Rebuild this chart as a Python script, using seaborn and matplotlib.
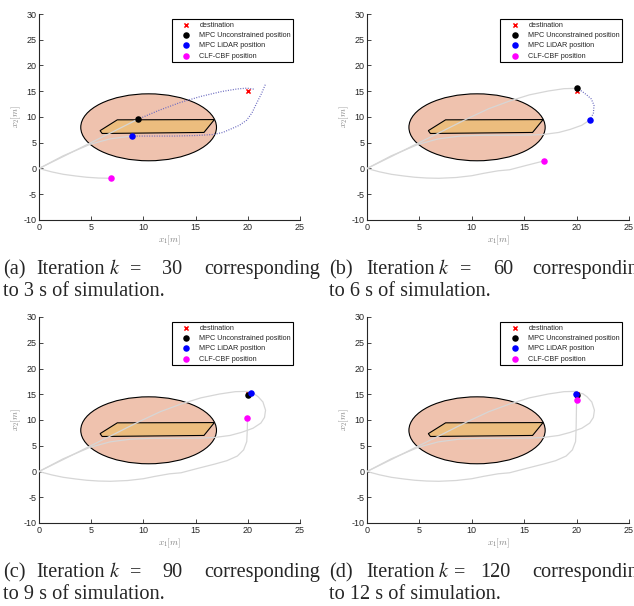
import numpy as np
import matplotlib
matplotlib.use("Agg")
import matplotlib.pyplot as plt
import seaborn as sns
from matplotlib.patches import Ellipse, Polygon

# ---- data ----
DEST = (20.0, 15.0)
OBST_CENTER = (10.5, 8.0)
OBST_RADIUS = 6.5
BUILD_X = [5.85, 7.5, 16.8, 15.8, 6.05]
BUILD_Y = [7.35, 9.45, 9.5, 7.0, 6.8]

# executed trajectories (gray)
UNC_X = [0, 2.4, 4.8, 7.2, 9.45, 11.6, 13.6, 15.5, 17.3, 18.8, 20.07, 20.05]
UNC_Y = [0, 2.4, 4.85, 7.25, 9.55, 11.6, 13.1, 14.3, 15.05, 15.5, 15.57, 14.9]

LID_X = [0, 2.3, 4.9, 6.8, 8.88, 11.0, 13.5, 15.5, 16.8, 18.3, 19.4, 20.5, 21.25,
         21.6, 21.7, 21.45, 21.0, 20.6, 20.3, 19.95]
LID_Y = [0, 2.45, 4.7, 5.75, 6.3, 6.45, 6.45, 6.5, 6.6, 7.0, 7.6, 8.4, 9.4,
         10.5, 11.9, 13.5, 14.5, 15.1, 15.2, 15.0]

CBF_X = [0, 1.2, 2.33, 3.5, 4.57, 5.7, 6.85, 8.5, 10.0, 11.1, 12.5, 13.6, 15.2,
         16.85, 18.0, 19.0, 19.6, 19.9, 19.95, 19.97, 20.0]
CBF_Y = [0, -0.65, -1.13, -1.45, -1.7, -1.85, -1.9, -1.75, -1.4, -0.95, -0.45,
         -0.25, 0.6, 1.45, 2.1, 3.0, 4.2, 5.8, 8.0, 10.3, 13.9]

# predicted trajectories (dotted)
UNC_PRED_A_X = [9.45, 11.5, 13.5, 15.5, 17.5, 19.0, 19.9, 20.6]
UNC_PRED_A_Y = [9.55, 11.3, 12.8, 14.0, 14.95, 15.45, 15.6, 15.4]
LID_PRED_A_X = [8.88, 11.0, 13.0, 15.0, 16.7, 17.6, 18.3, 19.2, 19.9, 20.4, 20.85, 21.3, 21.7]
LID_PRED_A_Y = [6.3, 6.3, 6.3, 6.4, 6.6, 7.0, 7.6, 8.4, 9.4, 10.8, 12.7, 14.5, 16.4]
LID_PRED_B_X = [21.25, 21.6, 21.66, 21.4, 20.96, 20.5, 20.07]
LID_PRED_B_Y = [9.4, 10.7, 12.3, 13.5, 14.3, 15.0, 15.57]

# index of current position per panel (a, b, c, d)
UNC_IDX = [4, 10, 11, 11]
LID_IDX = [4, 12, 18, 19]
CBF_IDX = [6, 13, 19, 20]
PREDS = [
    [(UNC_PRED_A_X, UNC_PRED_A_Y), (LID_PRED_A_X, LID_PRED_A_Y)],
    [(LID_PRED_B_X, LID_PRED_B_Y)],
    [],
    [],
]

LETTERS = ["a", "b", "c", "d"]
K_VALUES = [30, 60, 90, 120]
SECONDS = [3, 6, 9, 12]

LABELS = ["destination", "MPC Unconstrained position", "MPC LiDAR position", "CLF-CBF position"]

# ---- style ----
SALMON = "#efc2ae"
ORANGE = "#ecbd7e"
GRAY = "#d6d6d6"
DOT = "#6a6ac0"
AXC = "#262626"

sns.set_style("ticks")
plt.rcParams["font.family"] = ["Liberation Sans", "DejaVu Sans"]
plt.rcParams["axes.unicode_minus"] = False
plt.rcParams["axes.edgecolor"] = AXC
plt.rcParams["xtick.color"] = AXC
plt.rcParams["ytick.color"] = AXC
plt.rcParams["xtick.direction"] = "in"
plt.rcParams["ytick.direction"] = "in"

W, H = 634, 606
fig = plt.figure(figsize=(W / 100, H / 100), dpi=100)

# axes boxes in pixels: left, top, right, bottom
BOXES = [(39, 14, 300, 220), (367, 14, 629, 220), (39, 317, 300, 523), (367, 317, 629, 523)]

# caption layout: (x start, baseline line1, baseline line2, offsets of the parts)
CAP_POS = [
    (3, 274, 296, [0, 33, 106, 127, 159, 201]),
    (329, 274, 296, [0, 37, 109, 131, 164, 203]),
    (3, 577, 599, [0, 33, 106, 127, 159, 201]),
    (329, 577, 599, [0, 37, 109, 125, 151, 203]),
]
CAP_SIZE = 14.6


def draw_panel(ax, i):
    ax.add_patch(Ellipse(OBST_CENTER, 2 * OBST_RADIUS, 2 * OBST_RADIUS,
                         fc=SALMON, ec="black", lw=0.8, zorder=1))
    ax.add_patch(Polygon(np.column_stack([BUILD_X, BUILD_Y]), closed=True,
                         fc=ORANGE, ec="black", lw=0.8, zorder=2))

    for xs, ys, idx in [(UNC_X, UNC_Y, UNC_IDX[i]), (LID_X, LID_Y, LID_IDX[i]),
                        (CBF_X, CBF_Y, CBF_IDX[i])]:
        sns.lineplot(x=xs[:idx + 1], y=ys[:idx + 1], sort=False, estimator=None,
                     color=GRAY, lw=0.9, ax=ax, zorder=3)
    for px, py in PREDS[i]:
        sns.lineplot(x=px, y=py, sort=False, estimator=None, color=DOT,
                     lw=0.9, linestyle=(0, (0.8, 1.2)), ax=ax, zorder=4)

    sns.scatterplot(x=[DEST[0]], y=[DEST[1]], marker="x", color="red", s=9,
                    linewidth=1.1, ax=ax, zorder=5, label=LABELS[0])
    pts = [(UNC_X, UNC_Y, UNC_IDX[i], "black"), (LID_X, LID_Y, LID_IDX[i], "blue"),
           (CBF_X, CBF_Y, CBF_IDX[i], "magenta")]
    for j, (xs, ys, idx, c) in enumerate(pts):
        sns.scatterplot(x=[xs[idx]], y=[ys[idx]], color=c, s=22, linewidth=0,
                        ax=ax, zorder=6 + j, label=LABELS[j + 1])

    ax.set_xlim(0, 25)
    ax.set_ylim(-10, 30)
    ax.set_xticks(range(0, 26, 5))
    ax.set_yticks(range(-10, 31, 5))
    ax.tick_params(labelsize=6.5, length=3, width=0.6, pad=2)
    for s in ["top", "right"]:
        ax.spines[s].set_visible(False)
    for s in ["left", "bottom"]:
        ax.spines[s].set_linewidth(0.8)
    ax.set_xlabel(r"$x_1[m]$", fontsize=6.5, color="#808080", labelpad=1,
                  math_fontfamily="cm")
    ax.set_ylabel(r"$x_2[m]$", fontsize=6.5, color="#808080", labelpad=0.5,
                  math_fontfamily="cm")

    h, l = ax.get_legend_handles_labels()
    ax.legend(h, l, loc="upper right", bbox_to_anchor=(0.975, 0.975),
              frameon=True, fancybox=False, edgecolor="black", framealpha=1,
              fontsize=5.2, borderpad=0.35, labelspacing=0.45, handlelength=3.2,
              handletextpad=0.3, borderaxespad=0, markerscale=1.0)
    ax.get_legend().get_frame().set_linewidth(0.8)


def draw_caption(i):
    x0, b1, b2, offs = CAP_POS[i]
    parts = [f"({LETTERS[i]})", "Iteration", r"$k$", "=", str(K_VALUES[i]), "corresponding"]
    for p, o in zip(parts, offs):
        fig.text((x0 + o) / W, 1 - b1 / H, p, fontsize=CAP_SIZE, va="baseline",
                 family="Liberation Serif", math_fontfamily="stix")
    fig.text(x0 / W, 1 - b2 / H, f"to {SECONDS[i]} s of simulation.", fontsize=CAP_SIZE,
             va="baseline", family="Liberation Serif")


for i, (l, t, r, b) in enumerate(BOXES):
    ax = fig.add_axes([l / W, 1 - b / H, (r - l) / W, (b - t) / H])
    draw_panel(ax, i)
    draw_caption(i)

fig.savefig("out.png", dpi=100)
